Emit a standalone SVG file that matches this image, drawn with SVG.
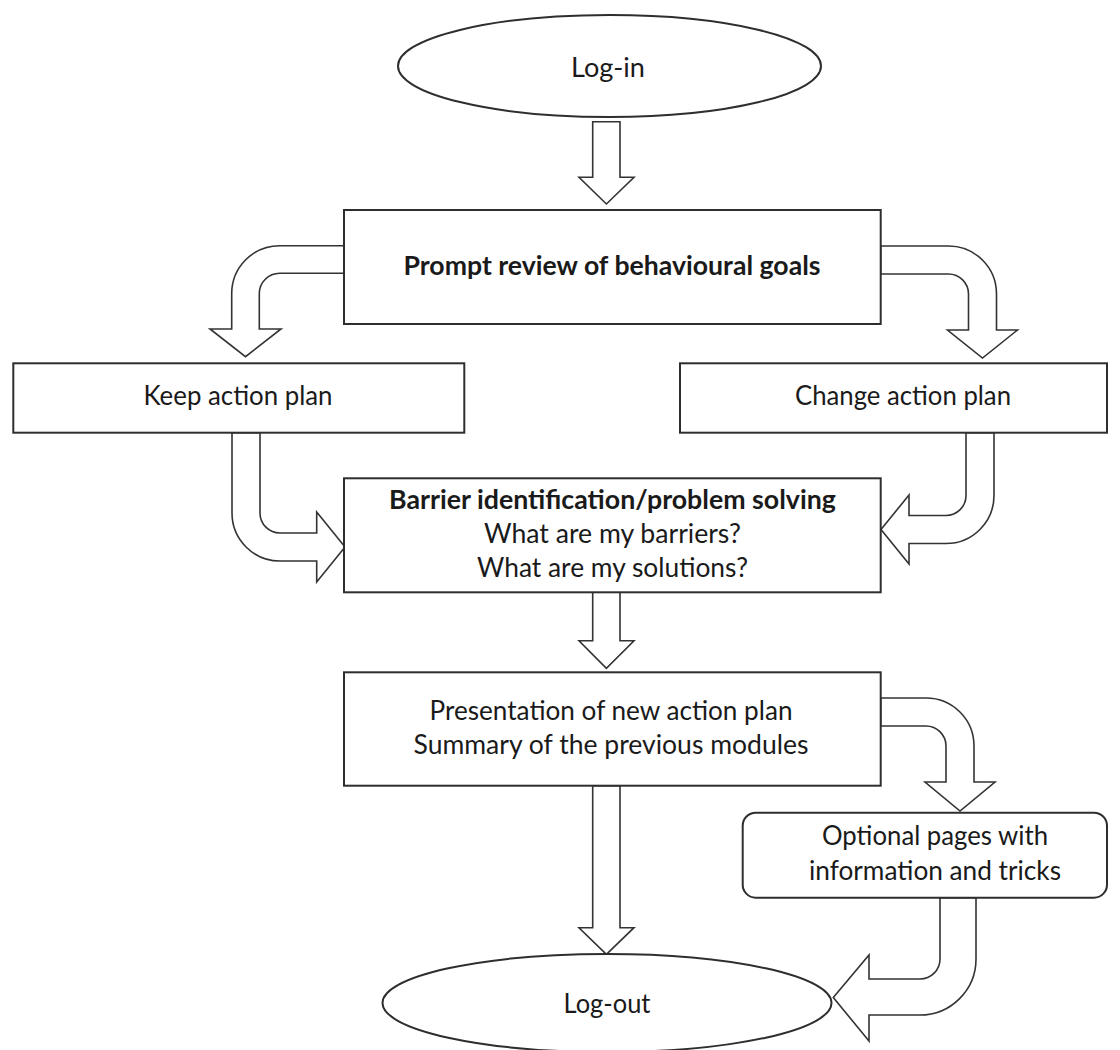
<svg xmlns="http://www.w3.org/2000/svg" width="1120" height="1050" viewBox="0 0 1120 1050">
<style>
.box{fill:#fff;stroke:#2e2e2e;stroke-width:2}
.arr{fill:#fff;stroke:#333;stroke-width:1.6;stroke-linejoin:miter}
text{font-family:Lato,"Open Sans","Liberation Sans",sans-serif;font-size:26px;fill:#1a1a1a;text-anchor:middle}
.b{font-weight:bold}
</style>
<rect width="1120" height="1050" fill="#fff"/>
<g id="connectors">
<path class="arr" d="M592.7,121.7 H620 V177.3 H634 L606.4,204 L579,177.3 H592.7 Z"/>
<path class="arr" d="M344,245.7 H279.7 A48,48 0 0 0 231.7,293.7 V329 H210 L245.5,356.7 L281,329 H259.3 V293.7 A20.5,20.5 0 0 1 279.7,273.2 H344 Z"/>
<path class="arr" d="M880.7,246 H948.5 A48,48 0 0 1 996.5,294 V330 H1017.5 L982.5,358 L947.5,330 H968.5 V294 A20,20 0 0 0 948.5,274 H880.7 Z"/>
<path class="arr" d="M232,432.7 V513 A48,48 0 0 0 280,561 H316.7 V582 L345,547 L316.7,512 V533 H280 A20,20 0 0 1 260,513 V432.7 Z"/>
<path class="arr" d="M994,432.7 V495.5 A48,48 0 0 1 946,543.5 H909 V564 L881,529.5 L909,495 V515.5 H946 A20,20 0 0 0 966,495.5 V432.7 Z"/>
<path class="arr" d="M592.7,592.3 H620 V640.7 H634 L606.4,668.3 L579,640.7 H592.7 Z"/>
<path class="arr" d="M880.7,698 H926 A48,48 0 0 1 974,746 V782 H995 L960,811 L925,782 H946 V746 A20,20 0 0 0 926,726 H880.7 Z"/>
<path class="arr" d="M592.7,785.7 H620 V927.7 H634 L606.4,954.3 L579,927.7 H592.7 Z"/>
<path class="arr" d="M976,897.7 V959 A56,56 0 0 1 920,1015 H869 V1041 L833.3,997.5 L869,955 V979 H920 A20,20 0 0 0 940,959 V897.7 Z"/>
</g>
<g id="login">
<ellipse class="box" cx="609.5" cy="66" rx="211.5" ry="51"/>
<text x="608" y="77" textLength="74" lengthAdjust="spacingAndGlyphs">Log-in</text>
</g>
<g id="prompt">
<rect class="box" x="344" y="210" width="536.7" height="114"/>
<text class="b" x="612" y="275" textLength="417" lengthAdjust="spacingAndGlyphs">Prompt review of behavioural goals</text>
</g>
<g id="keep">
<rect class="box" x="13.3" y="363.3" width="451" height="69.4"/>
<text x="238" y="405" textLength="189" lengthAdjust="spacingAndGlyphs">Keep action plan</text>
</g>
<g id="change">
<rect class="box" x="680" y="363.3" width="427" height="69.4"/>
<text x="903" y="405" textLength="216" lengthAdjust="spacingAndGlyphs">Change action plan</text>
</g>
<g id="barrier">
<rect class="box" x="344" y="478.3" width="536.7" height="114"/>
<text class="b" x="612.5" y="509" textLength="447" lengthAdjust="spacingAndGlyphs">Barrier identification/problem solving</text>
<text x="612.5" y="543" textLength="257" lengthAdjust="spacingAndGlyphs">What are my barriers?</text>
<text x="612.5" y="577" textLength="271" lengthAdjust="spacingAndGlyphs">What are my solutions?</text>
</g>
<g id="presentation">
<rect class="box" x="344" y="672.3" width="536.7" height="113.4"/>
<text x="611" y="720" textLength="363" lengthAdjust="spacingAndGlyphs">Presentation of new action plan</text>
<text x="611" y="754" textLength="395" lengthAdjust="spacingAndGlyphs">Summary of the previous modules</text>
</g>
<g id="optional">
<rect class="box" x="742.7" y="812.7" width="364.3" height="85" rx="13" ry="13"/>
<text x="935" y="845" textLength="226" lengthAdjust="spacingAndGlyphs">Optional pages with</text>
<text x="935" y="880" textLength="252" lengthAdjust="spacingAndGlyphs">information and tricks</text>
</g>
<g id="logout">
<ellipse class="box" cx="607" cy="1003" rx="224.5" ry="49"/>
<text x="607" y="1013" textLength="87" lengthAdjust="spacingAndGlyphs">Log-out</text>
</g>
</svg>
